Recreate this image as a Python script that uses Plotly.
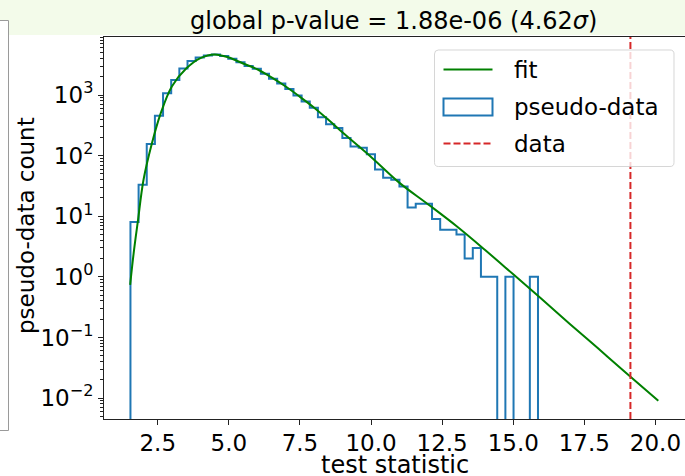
import numpy as np
import plotly.graph_objects as go

# ---------------- data ----------------
hist_counts = [8, 33, 156, 453, 1070, 1770, 2750, 3650, 4150, 4470,
               4680, 4400, 3980, 3470, 3020, 2700, 2240, 1860, 1550, 1260,
               980, 780, 617, 430, 330, 285, 195, 142, 135, 105,
               59, 43, 40, 31, 14, 16, 16, 9, 6, 6,
               5, 2, 3, 1, 1, 0, 1, 0, 0, 1]
hist_min = 1.54
hist_max = 15.87

fit_x = [1.53, 1.65, 1.80, 2.0, 2.3, 2.6, 3.0, 3.5, 4.0, 4.5, 5.0, 5.5, 6.0, 6.5,
         7.0, 7.5, 8.0, 8.5, 9.0, 10.0, 11.0, 12.0, 13.0, 14.0, 15.0, 16.0,
         17.0, 18.0, 19.0, 20.1]
fit_y = [0.74, 2.4, 8.2, 40, 163, 494, 1400, 2740, 4070, 4680, 4150, 3310, 2660, 1950,
         1380, 933, 617, 389, 240, 95, 35.5, 15.8, 6.9, 2.8, 1.1, 0.43,
         0.166, 0.065, 0.0253, 0.0090]

observed = 19.12
title_text = "global p-value = 1.88e-06 (4.62<i>σ</i>)"
x_ticks = [2.5, 5.0, 7.5, 10.0, 12.5, 15.0, 17.5, 20.0]
y_exps = [-2, -1, 0, 1, 2, 3]

# ---------------- layout geometry ----------------
W, H = 685, 476
ML, MR, MT, MB = 104, 0, 37, 57
PW, PH = W - ML - MR, H - MT - MB
FONT = "DejaVu Sans"
BLUE = "#1f77b4"
GREEN = "#008000"
RED = "#d62728"

ylog_range = [-2.345, 3.957]
x_range = [0.61, 0.61 + PW / 28.44]


def px(xp):
    return (xp - ML) / PW


def py(yp):
    return 1 - (yp - MT) / PH


# ---------------- traces ----------------
edges = np.linspace(hist_min, hist_max, len(hist_counts) + 1)
floor = 10 ** (ylog_range[0] - 1)
counts = np.array(hist_counts, dtype=float)
counts_plot = np.where(counts > 0, counts, floor)
step_x = np.repeat(edges, 2)
step_y = np.concatenate([[floor], np.repeat(counts_plot, 2), [floor]])

fig = go.Figure()
fig.add_trace(go.Scatter(x=step_x, y=step_y, mode="lines",
                         line=dict(color=BLUE, width=2), showlegend=False,
                         name="pseudo-data"))
fig.add_trace(go.Scatter(x=fit_x, y=fit_y, mode="lines", line_shape="spline",
                         line=dict(color=GREEN, width=2), showlegend=False, name="fit"))
fig.add_trace(go.Scatter(x=[observed, observed],
                         y=[10 ** ylog_range[0], 10 ** ylog_range[1]], mode="lines",
                         line=dict(color=RED, width=2, dash="7px,3px"),
                         showlegend=False, name="data"))

# ---------------- custom legend & page decoration ----------------
shapes = []
annotations = []

# page background band (top) and left panel
shapes.append(dict(type="rect", xref="paper", yref="paper", x0=px(0), x1=px(W),
                   y0=py(0), y1=py(35), fillcolor="#f3fbea", line=dict(width=0),
                   layer="below"))
shapes.append(dict(type="rect", xref="paper", yref="paper", x0=px(-3), x1=px(8.5),
                   y0=py(20.5), y1=py(430.5), fillcolor="white",
                   line=dict(color="#9a9a9a", width=1), layer="below"))

# legend frame (rounded)
lx0, lx1, ly0, ly1, r = 434.5, 674, 50, 166.5, 4


def P(x, y):
    return f"{px(x):.5f},{py(y):.5f}"


path = (f"M {P(lx0 + r, ly0)} L {P(lx1 - r, ly0)} Q {P(lx1, ly0)} {P(lx1, ly0 + r)} "
        f"L {P(lx1, ly1 - r)} Q {P(lx1, ly1)} {P(lx1 - r, ly1)} "
        f"L {P(lx0 + r, ly1)} Q {P(lx0, ly1)} {P(lx0, ly1 - r)} "
        f"L {P(lx0, ly0 + r)} Q {P(lx0, ly0)} {P(lx0 + r, ly0)} Z")
shapes.append(dict(type="path", xref="paper", yref="paper", path=path,
                   fillcolor="rgba(255,255,255,0.8)",
                   line=dict(color="rgba(204,204,204,0.8)", width=1), layer="above"))
hx0, hx1 = 443.5, 492.5
shapes.append(dict(type="line", xref="paper", yref="paper", x0=px(hx0), x1=px(hx1),
                   y0=py(69.5), y1=py(69.5), line=dict(color=GREEN, width=2),
                   layer="above"))
shapes.append(dict(type="rect", xref="paper", yref="paper", x0=px(hx0), x1=px(hx1),
                   y0=py(98.5), y1=py(115.5), line=dict(color=BLUE, width=2),
                   fillcolor="rgba(0,0,0,0)", layer="above"))
shapes.append(dict(type="line", xref="paper", yref="paper", x0=px(hx0), x1=px(hx1),
                   y0=py(143.5), y1=py(143.5),
                   line=dict(color=RED, width=2, dash="7px,3px"), layer="above"))
for label, yc in [("fit", 70), ("pseudo-data", 107), ("data", 143.5)]:
    annotations.append(dict(xref="paper", yref="paper", x=px(512), y=py(yc),
                            xanchor="left", yanchor="middle", text=label,
                            showarrow=False, font=dict(family=FONT, size=23, color="black")))

# axis titles
annotations.append(dict(xref="paper", yref="paper", x=px(26), y=py(226),
                        xanchor="center", yanchor="middle", textangle=-90,
                        text="pseudo-data count", showarrow=False,
                        font=dict(family=FONT, size=23, color="black")))
annotations.append(dict(xref="paper", yref="paper", x=px(395), y=py(465),
                        xanchor="center", yanchor="middle",
                        text="test statistic", showarrow=False,
                        font=dict(family=FONT, size=24, color="black")))
# title
annotations.append(dict(xref="paper", yref="paper", x=px(393), y=py(21),
                        xanchor="center", yanchor="middle",
                        text=title_text, showarrow=False,
                        font=dict(family=FONT, size=24, color="black")))

minor_vals = [m * 10 ** e for e in range(-3, 4) for m in range(2, 10)]

fig.update_layout(
    width=W, height=H,
    margin=dict(l=ML, r=MR, t=MT, b=MB),
    paper_bgcolor="white", plot_bgcolor="rgba(0,0,0,0)",
    showlegend=False,
    shapes=shapes, annotations=annotations,
    font=dict(family=FONT, color="black"),
    xaxis=dict(range=x_range, tickmode="array", tickvals=x_ticks,
               ticktext=[f"{v:.1f}" for v in x_ticks],
               ticks="outside", ticklen=5, tickwidth=1, tickcolor="#222",
               showline=True, linecolor="#222", linewidth=1, mirror=True,
               showgrid=False, zeroline=False, ticklabelstandoff=-2,
               tickfont=dict(family=FONT, size=23, color="black")),
    yaxis=dict(type="log", range=ylog_range, tickmode="array",
               tickvals=[10 ** e for e in y_exps],
               ticktext=[f"10<sup>{str(e).replace('-', '−')}</sup>" for e in y_exps],
               ticks="outside", ticklen=5, tickwidth=1, tickcolor="#222",
               showline=True, linecolor="#222", linewidth=1, mirror=False,
               showgrid=False, zeroline=False,
               minor=dict(tickmode="array", tickvals=minor_vals, ticks="outside",
                          ticklen=3, tickwidth=0.8, tickcolor="#222", showgrid=False),
               tickfont=dict(family=FONT, size=23, color="black")),
)

fig.write_html("out.html")
